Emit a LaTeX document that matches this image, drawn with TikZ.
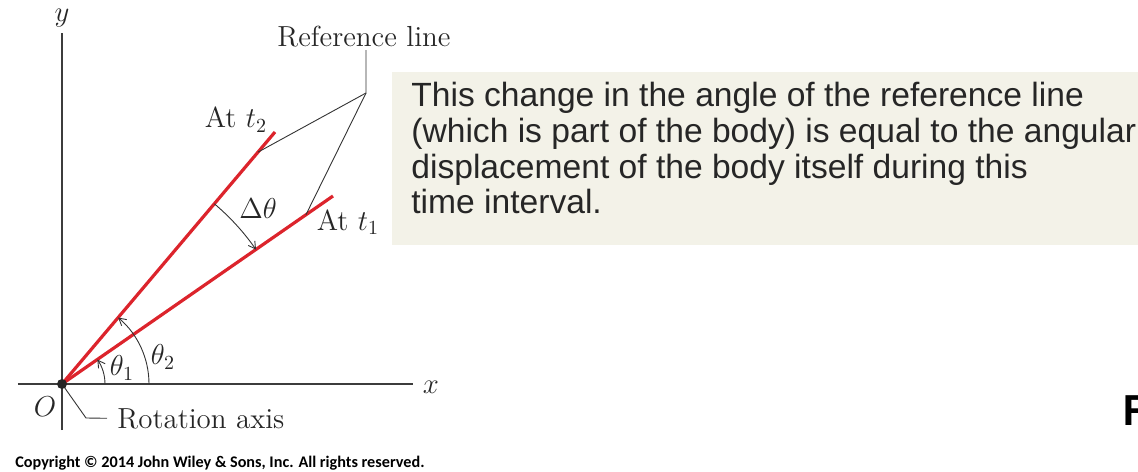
\documentclass[tikz,border=0pt]{standalone}
\usepackage{fontspec}
\usepackage{xcolor}
\newfontfamily\notefont{Liberation Sans}
\newfontfamily\creditfont{Carlito}
\definecolor{rayred}{RGB}{220,36,44}
\definecolor{axisgray}{RGB}{60,60,60}
\definecolor{notebg}{RGB}{243,242,232}
\usetikzlibrary{arrows.meta,calc}

\begin{document}
\begin{tikzpicture}[x=0.5pt,y=0.5pt,
  lbl/.style={font=\fontsize{14.5}{17}\selectfont,text=black!85,inner sep=1pt},
  axis/.style={line width=0.9pt,draw=axisgray},
  ray/.style={line width=1.6pt,draw=rayred},
  lead/.style={line width=0.45pt,draw=black!80},
  ang/.style={line width=0.45pt,draw=black!80,-{Straight Barb[length=3.5pt,width=4pt]}}]
  \useasboundingbox (-62,-87) rectangle (1076,384);
  \fill[notebg] (330,139) rectangle (1076,312);
  \node[font=\notefont\fontsize{16.8}{17.85}\selectfont,text=black!85,align=left,anchor=north west,inner sep=0pt] (note) at (349,302)
    {This change in the angle of the reference line\\(which is part of the body) is equal to the angular\\displacement of the body itself during this\\time interval.};
  \coordinate (O) at (0,0);
  \coordinate (t1) at (271,188);
  \coordinate (t2) at (213,252);
  \draw[axis] (-44,0) -- (351,0);
  \draw[axis] (0,-46) -- (0,351);
  \node[lbl] (xl) at (369,-3) {$x$};
  \node[lbl] (yl) at (0,366) {$y$};
  \node[lbl] (ol) at (-17,-23) {$O$};
  \draw[ray] (O) -- (t1);
  \draw[ray] (O) -- (t2);
  \draw[ang] (43,0) arc[start angle=0,end angle=34.7,radius=43];
  \draw[ang] (87,0) arc[start angle=0,end angle=49.8,radius=87];
  \draw[ang,{Straight Barb[length=3.5pt,width=4pt]}-] (34.7:236) arc[start angle=34.7,end angle=49.8,radius=236];
  \node[lbl] (th1) at (60,16) {$\theta_1$};
  \node[lbl] (th2) at (101,27) {$\theta_2$};
  \node[lbl] (dth) at (196,175) {$\Delta\theta$};
  \node[lbl,anchor=base] (at2) at (174,256) {At $t_2$};
  \node[lbl,anchor=base] (at1) at (286,154) {At $t_1$};
  \node[lbl,anchor=base] (ref) at (302,337) {Reference line};
  \coordinate (apex) at (304,291);
  \draw[lead] (ref.south -| apex) -- (apex) -- ($(O)!0.92!(t2)$);
  \draw[lead] (apex) -- ($(O)!0.9!(t1)$);
  \node[lbl,anchor=base west] (rot) at (53,-44) {Rotation axis};
  \draw[lead,shorten >=4pt] (O) -- (24,-34) -- (rot.west);
  \fill[black!85] (O) circle (5);
  \node[font=\creditfont\bfseries\fontsize{8.1}{10}\selectfont,anchor=base west,inner sep=0pt] (credit) at (-47,-83)
    {Copyright © 2014 John Wiley \& Sons, Inc. All rights reserved.};
  \node[font=\creditfont\bfseries\fontsize{23}{25}\selectfont,anchor=base west,inner sep=0pt] (fig) at (1061,-41) {F};
\end{tikzpicture}
\end{document}
